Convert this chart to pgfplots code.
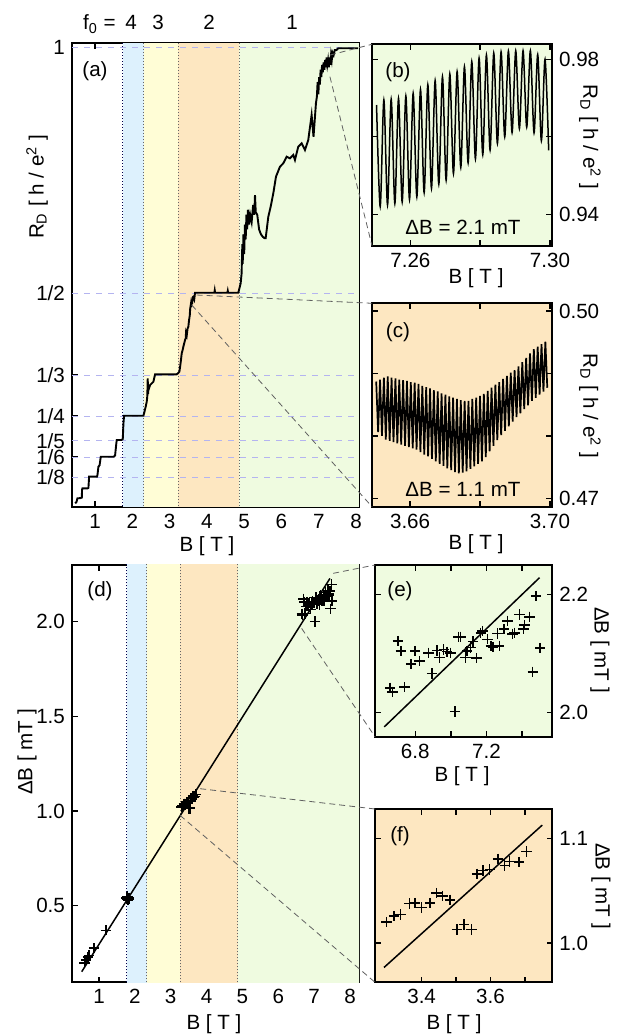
\documentclass[border=0pt]{standalone}
\usepackage{fontspec}
\setmainfont{Liberation Sans}
\usepackage{pgfplots}
\pgfplotsset{compat=1.18}
\definecolor{bandblue}{HTML}{DDF1FD}
\definecolor{bandyellow}{HTML}{FFFDD6}
\definecolor{bandorange}{HTML}{FDE7C1}
\definecolor{bandgreen}{HTML}{EFFBE0}
\definecolor{gridv}{HTML}{B4B4F0}
\definecolor{conn}{HTML}{606060}
\newcommand{\fs}{\fontsize{10.3}{12}\selectfont}
\pgfplotsset{
  base/.style={scale only axis, anchor=south west,
    axis line style={line width=0.9pt},
    every tick/.style={black, line width=0.7pt},
    major tick length=2.8pt, tick align=inside, tick pos=both,
    tick label style={font=\fs},
    /pgf/number format/assume math mode=true,
    clip=true},
  pm/.style={only marks, mark=+, mark size=2.6pt, mark options={line width=0.75pt}},
}
\begin{document}
\begin{tikzpicture}
\useasboundingbox (0,0) rectangle (312.5pt,518pt);

% ---------------- (a)
\begin{axis}[base, at={(36pt,264.5pt)}, width=143.5pt, height=231.85pt,
  xmin=0.38, xmax=8.08, ymin=0.065, ymax=1.009,
  xtick={1,2,3,4,5,6,7,8}, xticklabels={1,2,3,4,5,6,7,8},
  ytick={0.125,0.16667,0.2,0.25,0.33333,0.5,1},
  yticklabels={1/8,1/6,1/5,1/4,1/3,1/2,1}]
\fill[bandblue] (1.743,0) rectangle (2.306,1.1);
\fill[bandyellow] (2.306,0) rectangle (3.233,1.1);
\fill[bandorange] (3.233,0) rectangle (4.869,1.1);
\fill[bandgreen] (4.869,0) rectangle (8.2,1.1);
\pgfplotsinvokeforeach{0.125,0.16667,0.2,0.25,0.33333,0.5,1}{
  \draw[gridv, dashed, line width=0.4pt] (0.38,#1) -- (8.08,#1);}
\draw[densely dotted, black!70!blue, line width=0.5pt] (1.743,0) -- (1.743,1.1);
\pgfplotsinvokeforeach{2.306,3.233,4.869}{
  \draw[densely dotted, black!60, line width=0.5pt] (#1,0) -- (#1,1.1);}
\addplot[black, line width=0.95pt] coordinates {
(0.464,0.0725) (0.50,0.075) (0.526,0.0827) (0.60,0.083) (0.643,0.084)
(0.65,0.100) (0.66,0.1030) (0.80,0.1030) (0.821,0.104) (0.839,0.1267)
(1.05,0.1267) (1.063,0.130) (1.089,0.1470) (1.12,0.150) (1.152,0.1673)
(1.50,0.1673) (1.536,0.170) (1.57,0.195) (1.581,0.2013) (1.70,0.2013)
(1.742,0.203) (1.76,0.235) (1.777,0.2508) (2.296,0.2508) (2.314,0.2557)
(2.36,0.270) (2.385,0.2793) (2.40,0.290) (2.412,0.3270) (2.42,0.295)
(2.430,0.3031) (2.475,0.3133) (2.564,0.3200) (2.609,0.3351) (3.189,0.3351)
(3.22,0.337) (3.261,0.3404) (3.28,0.350) (3.30,0.362) (3.324,0.3778)
(3.35,0.385) (3.37,0.392) (3.39,0.398) (3.413,0.4049) (3.43,0.408)
(3.44,0.420) (3.46,0.415) (3.48,0.428) (3.502,0.432) (3.52,0.445)
(3.54,0.455) (3.55,0.468) (3.57,0.478) (3.58,0.472) (3.592,0.4864)
(3.60,0.478) (3.62,0.492) (3.636,0.4931) (3.66,0.488) (3.681,0.5012)
(4.20,0.5012) (4.21,0.506) (4.22,0.5012) (4.55,0.5012) (4.56,0.505) (4.57,0.5012)
(4.843,0.5012) (4.905,0.5204) (4.93,0.54) (4.95,0.60) (4.96,0.56)
(4.98,0.62) (5.00,0.58) (5.02,0.64) (5.04,0.61) (5.06,0.66) (5.08,0.63)
(5.10,0.67) (5.13,0.64) (5.16,0.66) (5.20,0.645) (5.24,0.68) (5.27,0.66)
(5.29,0.70) (5.31,0.665) (5.35,0.66) (5.40,0.63) (5.45,0.62) (5.50,0.615)
(5.55,0.612) (5.576,0.6120) (5.647,0.6559) (5.710,0.6763) (5.781,0.7036)
(5.853,0.7374) (5.960,0.7577) (6.049,0.7647) (6.139,0.7781) (6.228,0.7748)
(6.317,0.7816) (6.362,0.7714) (6.451,0.7985) (6.541,0.8053) (6.630,0.7917)
(6.719,0.8121) (6.809,0.8630) (6.860,0.8188) (6.925,0.8868) (6.95,0.90)
(6.97,0.93) (6.99,0.905) (7.01,0.94) (7.03,0.925) (7.05,0.955) (7.07,0.94)
(7.09,0.965) (7.11,0.95) (7.13,0.97) (7.15,0.955) (7.17,0.975) (7.19,0.96)
(7.21,0.98) (7.23,0.965) (7.25,0.975) (7.27,0.96) (7.29,0.98) (7.31,0.965)
(7.33,0.985) (7.35,0.975) (7.37,0.99) (7.40,0.985) (7.43,0.995)
(7.47,0.995) (7.524,0.9988) (8.060,0.9988)
};
\coordinate (aB1) at (7.30,0.985);
\coordinate (aB2) at (7.30,0.941);
\coordinate (aC1) at (3.726,0.4965);
\coordinate (aC2) at (3.592,0.4762);
\end{axis}

% ---------------- (b)
\begin{axis}[base, at={(186pt,395.15pt)}, width=90pt, height=100.7pt,
  axis background/.style={fill=bandgreen},
  xmin=7.249, xmax=7.3006, ymin=0.9319, ymax=0.98387,
  xtick={7.26,7.28,7.30}, xticklabels={7.26,,7.30},
  ytick={0.94,0.96,0.98}, yticklabels={0.94,,0.98},
  yticklabel pos=right]
\addplot[black, line width=0.75pt, smooth] coordinates {
(7.2503,0.9682) (7.25135,0.9420) (7.2524,0.9695) (7.25345,0.9424)
(7.2545,0.9697) (7.25555,0.9428) (7.2566,0.9699) (7.25765,0.9432)
(7.2587,0.9705) (7.25975,0.9438) (7.2608,0.9712) (7.26185,0.9445)
(7.2629,0.9722) (7.26395,0.9456) (7.2650,0.9734) (7.26605,0.9467)
(7.2671,0.9745) (7.26815,0.9478) (7.2692,0.9755) (7.27025,0.9488)
(7.2713,0.9762) (7.27235,0.9505) (7.2734,0.9768) (7.27445,0.9521)
(7.2755,0.9781) (7.27655,0.9533) (7.2776,0.9794) (7.27865,0.9543)
(7.2797,0.9803) (7.28075,0.9554) (7.2818,0.9811) (7.28285,0.9566)
(7.2839,0.9816) (7.28495,0.9583) (7.2860,0.9819) (7.28705,0.9600)
(7.2881,0.9821) (7.28915,0.9611) (7.2902,0.9822) (7.29125,0.9621)
(7.2923,0.9822) (7.29335,0.9625) (7.2944,0.9822) (7.29545,0.9610)
(7.2965,0.9812) (7.29755,0.9590) (7.2986,0.9800) (7.29965,0.9565)
};
\coordinate (bTL) at (rel axis cs:0,1);
\coordinate (bBL) at (rel axis cs:0,0);
\end{axis}

% ---------------- (c)
\begin{axis}[base, at={(186pt,264.65pt)}, width=90pt, height=101.7pt,
  axis background/.style={fill=bandorange},
  xmin=3.6491, xmax=3.7006, ymin=0.46865, ymax=0.50123,
  xtick={3.66,3.68,3.70}, xticklabels={3.66,,3.70},
  ytick={0.47,0.48,0.49,0.50}, yticklabels={0.47,,,0.50},
  yticklabel pos=right]
\addplot[black, line width=0.85pt] coordinates {
(3.6503,0.4887) (3.65085,0.4806) (3.6514,0.4890) (3.65195,0.4800)
(3.6525,0.4893) (3.65305,0.4794) (3.6536,0.4895) (3.65415,0.4792)
(3.6547,0.4893) (3.65525,0.4790) (3.6558,0.4892) (3.65635,0.4788)
(3.6569,0.4890) (3.65745,0.4786) (3.6580,0.4889) (3.65855,0.4784)
(3.6591,0.4888) (3.65965,0.4782) (3.6602,0.4886) (3.66075,0.4780)
(3.6613,0.4885) (3.66185,0.4778) (3.6624,0.4883) (3.66295,0.4774)
(3.6635,0.4880) (3.66405,0.4770) (3.6646,0.4878) (3.66515,0.4767)
(3.6657,0.4876) (3.66625,0.4763) (3.6668,0.4873) (3.66735,0.4759)
(3.6679,0.4871) (3.66845,0.4755) (3.6690,0.4868) (3.66955,0.4752)
(3.6701,0.4866) (3.67065,0.4748) (3.6712,0.4863) (3.67175,0.4745)
(3.6723,0.4861) (3.67285,0.4742) (3.6734,0.4859) (3.67395,0.4740)
(3.6745,0.4857) (3.67505,0.4741) (3.6756,0.4856) (3.67615,0.4743)
(3.6767,0.4856) (3.67725,0.4747) (3.6778,0.4859) (3.67835,0.4751)
(3.6789,0.4861) (3.67945,0.4755) (3.6800,0.4864) (3.68055,0.4759)
(3.6811,0.4867) (3.68165,0.4766) (3.6822,0.4872) (3.68275,0.4775)
(3.6833,0.4877) (3.68385,0.4784) (3.6844,0.4882) (3.68495,0.4793)
(3.6855,0.4886) (3.68605,0.4801) (3.6866,0.4891) (3.68715,0.4808)
(3.6877,0.4896) (3.68825,0.4815) (3.6888,0.4901) (3.68935,0.4823)
(3.6899,0.4905) (3.69045,0.4830) (3.6910,0.4911) (3.69155,0.4836)
(3.6921,0.4918) (3.69265,0.4843) (3.6932,0.4925) (3.69375,0.4849)
(3.6943,0.4932) (3.69485,0.4856) (3.6954,0.4939) (3.69595,0.4861)
(3.6965,0.4943) (3.69705,0.4866) (3.6976,0.4947) (3.69815,0.4871)
(3.6987,0.4951) (3.69925,0.4877)
};
\coordinate (cTL) at (rel axis cs:0,1);
\coordinate (cBL) at (rel axis cs:0,0);
\end{axis}

% ---------------- (d)
\begin{axis}[base, at={(36pt,26.85pt)}, width=143.5pt, height=208.65pt,
  xmin=0.247, xmax=8.25, ymin=0.095, ymax=2.30,
  xtick={1,2,3,4,5,6,7,8}, xticklabels={1,2,3,4,5,6,7,8},
  ytick={0.5,1.0,1.5,2.0}, yticklabels={0.5,1.0,1.5,2.0}]
\fill[bandblue] (1.772,0) rectangle (2.330,2.4);
\fill[bandyellow] (2.330,0) rectangle (3.259,2.4);
\fill[bandorange] (3.259,0) rectangle (4.868,2.4);
\fill[bandgreen] (4.868,0) rectangle (8.3,2.4);
\draw[densely dotted, black!70!blue, line width=0.5pt] (1.772,0) -- (1.772,2.4);
\pgfplotsinvokeforeach{2.330,3.259,4.868}{
  \draw[densely dotted, black!60, line width=0.5pt] (#1,0) -- (#1,2.4);}
\addplot[black, line width=0.75pt] coordinates {(0.518,0.151) (7.44,2.229)};
\addplot[pm] coordinates {
(0.60,0.198) (0.64,0.213) (0.70,0.228) (0.72,0.236) (0.86,0.275) (1.19,0.370)
(1.76,0.540) (1.78,0.535) (1.80,0.545) (1.82,0.538) (1.84,0.542) (1.79,0.548)
(1.81,0.530) (1.77,0.543) (1.83,0.536)
(3.2985,1.0200) (3.3197,1.0258) (3.3391,1.0274) (3.3642,1.0377) (3.3806,1.0381)
(3.4000,1.0339) (3.4241,1.0381) (3.4434,1.0478) (3.4608,1.0452) (3.4820,1.0413)
(3.5033,1.0129) (3.5236,1.0177) (3.5448,1.0129) (3.5612,1.0661) (3.5786,1.0693)
(3.5979,1.0703) (3.6221,1.0806) (3.6414,1.0742) (3.6559,1.0780) (3.6830,1.0774)
(3.7042,1.0877)
(6.702,2.121) (6.719,2.104) (6.658,2.042) (6.672,2.035) (6.740,2.043) (6.777,2.082)
(6.800,2.104) (6.823,2.087) (6.875,2.101) (6.894,2.066) (6.923,2.105) (6.936,2.093)
(6.960,2.107) (6.979,2.103) (6.998,2.101) (7.023,2.002) (7.042,2.128) (7.055,2.128)
(7.083,2.093) (7.092,2.104) (7.111,2.110) (7.125,2.120) (7.144,2.092) (7.168,2.135)
(7.177,2.138) (7.206,2.124) (7.225,2.113) (7.238,2.111) (7.262,2.134) (7.272,2.113)
(7.300,2.141) (7.319,2.155) (7.347,2.133) (7.357,2.135) (7.385,2.166) (7.408,2.141)
(7.413,2.148) (7.442,2.162) (7.460,2.069) (7.479,2.197) (7.502,2.109)
};
\coordinate (dE1) at (7.53,2.256);
\coordinate (dE2) at (6.65,1.965);
\coordinate (dF1) at (3.82,1.118);
\coordinate (dF2) at (3.26,0.977);
\end{axis}

% ---------------- (e)
\begin{axis}[base, at={(187.5pt,149.65pt)}, width=88.65pt, height=85.85pt,
  axis background/.style={fill=bandgreen},
  xmin=6.574, xmax=7.570, ymin=1.9594, ymax=2.2495,
  xtick={6.8,7.0,7.2,7.4}, xticklabels={6.8,,7.2,},
  ytick={2.0,2.2}, yticklabels={2.0,2.2},
  yticklabel pos=right]
\addplot[black, line width=0.75pt] coordinates {(6.626,1.976) (7.498,2.228)};
\addplot[pm] coordinates {
(6.702,2.121) (6.719,2.104) (6.658,2.042) (6.672,2.035) (6.740,2.043) (6.777,2.082)
(6.800,2.104) (6.823,2.087) (6.875,2.101) (6.894,2.066) (6.923,2.105) (6.936,2.093)
(6.960,2.107) (6.979,2.103) (6.998,2.101) (7.023,2.002) (7.042,2.128) (7.055,2.128)
(7.083,2.093) (7.092,2.104) (7.111,2.110) (7.125,2.120) (7.144,2.092) (7.168,2.135)
(7.177,2.138) (7.206,2.124) (7.225,2.113) (7.238,2.111) (7.262,2.134) (7.272,2.113)
(7.300,2.141) (7.319,2.155) (7.347,2.133) (7.357,2.135) (7.385,2.166) (7.408,2.141)
(7.413,2.148) (7.442,2.162) (7.460,2.069) (7.479,2.197) (7.502,2.109)
};
\coordinate (eTL) at (rel axis cs:0,1);
\coordinate (eBL) at (rel axis cs:0,0);
\end{axis}

% ---------------- (f)
\begin{axis}[base, at={(187.5pt,26.85pt)}, width=88.65pt, height=86.65pt,
  axis background/.style={fill=bandorange},
  xmin=3.2646, xmax=3.7797, ymin=0.9623, ymax=1.1283,
  xtick={3.4,3.5,3.6,3.7}, xticklabels={3.4,,3.6,},
  ytick={1.0,1.1}, yticklabels={1.0,1.1},
  yticklabel pos=right]
\addplot[black, line width=0.75pt] coordinates {(3.2907,0.9765) (3.7506,1.1129)};
\addplot[pm] coordinates {
(3.2985,1.0200) (3.3197,1.0258) (3.3391,1.0274) (3.3642,1.0377) (3.3806,1.0381)
(3.4000,1.0339) (3.4241,1.0381) (3.4434,1.0478) (3.4608,1.0452) (3.4820,1.0413)
(3.5033,1.0129) (3.5236,1.0177) (3.5448,1.0129) (3.5612,1.0661) (3.5786,1.0693)
(3.5979,1.0703) (3.6221,1.0806) (3.6414,1.0742) (3.6559,1.0780) (3.6830,1.0774)
(3.7042,1.0877)
};
\coordinate (fTL) at (rel axis cs:0,1);
\coordinate (fBL) at (rel axis cs:0,0);
\end{axis}

% connectors
\begin{scope}[conn, dashed, line width=0.4pt, dash pattern=on 3pt off 2pt]
\draw (aB1) -- (bTL); \draw (aB2) -- (bBL);
\draw (aC1) -- (cTL); \draw (aC2) -- (cBL);
\draw (dE1) -- (eTL); \draw (dE2) -- (eBL);
\draw (dF1) -- (fTL); \draw (dF2) -- (fBL);
\end{scope}

% text (pixel coordinates of the 625x1036 reference)
\begin{scope}[x=0.5pt, y=-0.5pt, yshift=518pt, every node/.style={font=\fs, inner sep=0pt}]
\node[anchor=base east] at (116,30) {f\textsubscript{0} =};
\node[anchor=base] at (131,30) {4};
\node[anchor=base] at (158,30) {3};
\node[anchor=base] at (209,30) {2};
\node[anchor=base] at (292,30) {1};
\node[rotate=90] at (37,187) {R\textsubscript{D} [ h / e\textsuperscript{2} ]};
\node at (207,546) {B [ T ]};
\node[rotate=-90] at (590,137) {R\textsubscript{D} [ h / e\textsuperscript{2} ]};
\node at (476,278) {B [ T ]};
\node[rotate=-90] at (590,406) {R\textsubscript{D} [ h / e\textsuperscript{2} ]};
\node at (476,544) {B [ T ]};
\node[rotate=90] at (27,752) {ΔB [ mT ]};
\node at (214,1024) {B [ T ]};
\node[rotate=-90] at (600,650) {ΔB [ mT ]};
\node at (462,776) {B [ T ]};
\node[rotate=-90] at (601,886) {ΔB [ mT ]};
\node at (454,1024) {B [ T ]};
\node at (95,71) {(a)};
\node at (398,72) {(b)};
\node at (398,332) {(c)};
\node at (100,591) {(d)};
\node at (400,591) {(e)};
\node at (400,836) {(f)};
\node at (463,227) {ΔB = 2.1 mT};
\node at (463,489) {ΔB = 1.1 mT};
\end{scope}
\end{tikzpicture}
\end{document}
